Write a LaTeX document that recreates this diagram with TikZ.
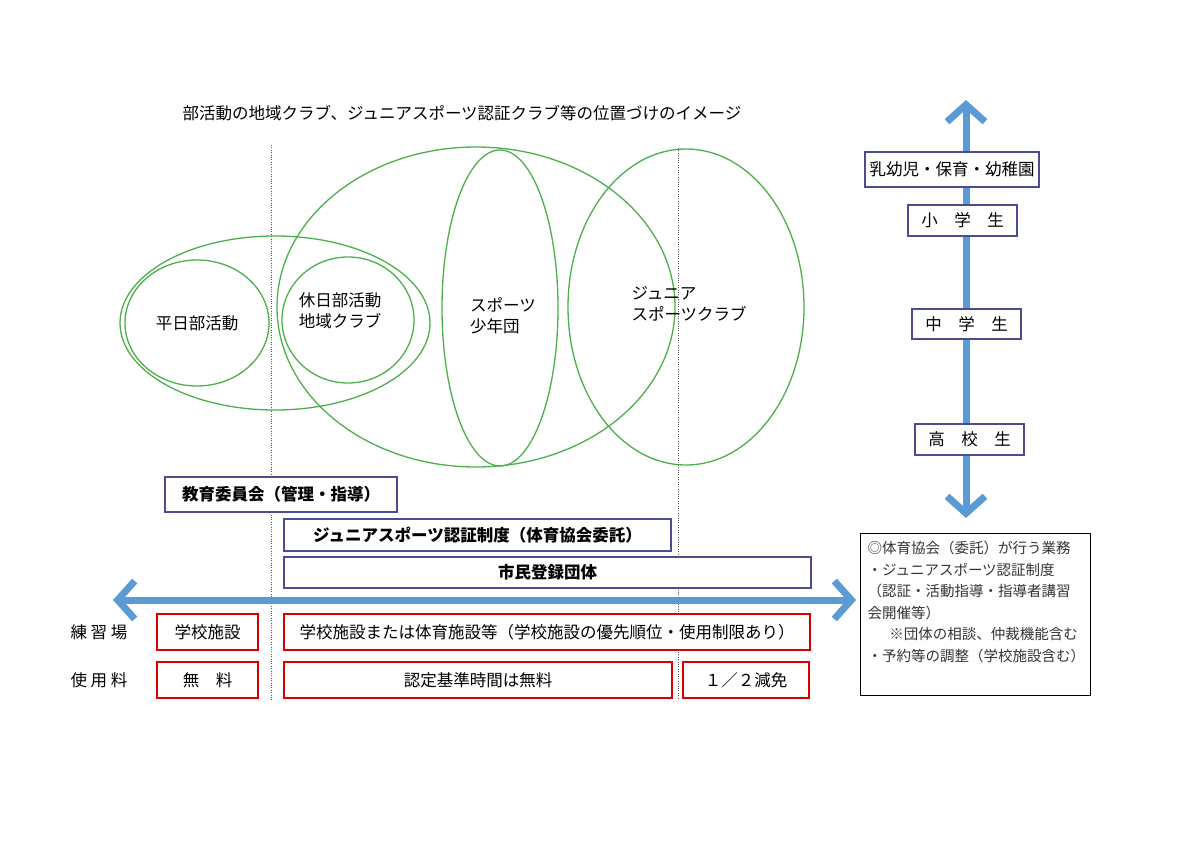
\documentclass[tikz,border=0pt]{standalone}
\usepackage{fontspec}
\setmainfont{Noto Sans CJK JP}
\usetikzlibrary{arrows.meta}
\definecolor{arrowblue}{RGB}{91,155,213}
\tikzset{
  circ/.style={draw=green!55!black!70!white, line width=1.3pt},
  bluebox/.style={draw=blue!40!black!70!white, line width=1.2pt, fill=white},
  redbox/.style={draw=red!85!black, line width=1.6pt, fill=white},
  bigarrow/.style={draw=arrowblue, line width=7pt,
    {Straight Barb[length=17pt,width=38pt]}-{Straight Barb[length=17pt,width=38pt]}},
  txt/.style={font=\fontsize{16.5}{21}\selectfont, align=center}
}
\begin{document}
\begin{tikzpicture}[x=1pt, y=-1pt]
\useasboundingbox (0,0) rectangle (1200,848);
% title
\node[txt] (title) at (462,113) {部活動の地域クラブ、ジュニアスポーツ認証クラブ等の位置づけのイメージ};
% dotted guides
\draw[dotted, gray!70!black] (271,145) -- (271,700);
\draw[dotted, gray!70!black] (678,148) -- (678,700);
% circles
\draw[circ] (275,323) ellipse [x radius=155, y radius=87];
\draw[circ] (197,323) ellipse [x radius=72, y radius=63];
\draw[circ] (348,320) ellipse [x radius=66, y radius=63];
\draw[circ] (476,307) ellipse [x radius=199, y radius=160];
\draw[circ] (500,308) ellipse [x radius=58, y radius=158];
\draw[circ] (686,307) ellipse [x radius=118, y radius=158];
\node[txt] (heijitsu) at (197,323) {平日部活動};
\node[txt] (kyujitsu) at (340,311) {休日部活動\\地域クラブ};
\node[txt, align=left] (shonen) at (503,316) {スポーツ\\少年団};
\node[txt, align=left, anchor=west] (junior) at (628,304) {ジュニア\\スポーツクラブ};
% horizontal arrow
\coordinate (hl) at (113,600);
\coordinate (hr) at (856,600);
\draw[bigarrow] (hl) -- (hr);
% organisation boxes
\node[bluebox, txt, minimum width=232, minimum height=35] (kyoiku) at (281,494.5) {\textbf{教育委員会（管理・指導）}};
\node[bluebox, txt, minimum width=387, minimum height=32] (ninsho) at (477.5,535) {\textbf{ジュニアスポーツ認証制度（体育協会委託）}};
\node[bluebox, txt, minimum width=527, minimum height=31] (shimin) at (547.5,572.5) {\textbf{市民登録団体}};
% rows
\node[txt] (renshu) at (99,632) {練 習 場};
\node[txt] (shiyo) at (99,680) {使 用 料};
\node[redbox, txt, minimum width=101, minimum height=36] (gakko) at (207.5,632) {学校施設};
\node[redbox, txt, minimum width=526, minimum height=36] (shisetsu) at (547,632) {学校施設または体育施設等（学校施設の優先順位・使用制限あり）};
\node[redbox, txt, minimum width=101, minimum height=36] (muryo) at (207.5,680) {無\quad 料};
\node[redbox, txt, minimum width=388, minimum height=36] (nintei) at (478,680) {認定基準時間は無料};
\node[redbox, txt, minimum width=126, minimum height=36] (hangen) at (746,680) {１／２減免};
% vertical arrow
\coordinate (vt) at (966,100);
\coordinate (vb) at (966,518);
\draw[bigarrow] (vt) -- (vb);
\node[bluebox, txt, minimum width=174, minimum height=35] (nyuyoji) at (952,169.5) {乳幼児・保育・幼稚園};
\node[bluebox, txt, minimum width=109, minimum height=31] (sho) at (962.5,220.5) {小\quad 学\quad 生};
\node[bluebox, txt, minimum width=109, minimum height=30] (chu) at (966.5,324) {中\quad 学\quad 生};
\node[bluebox, txt, minimum width=109, minimum height=31] (ko) at (969.5,439.5) {高\quad 校\quad 生};
% note box
\draw[line width=0.8pt] (860,533) rectangle (1090,695);
\node[anchor=north west, align=left, font=\fontsize{14.5}{21.5}\selectfont, text=black!80] (note) at (864,538)
  {◎体育協会（委託）が行う業務\\・ジュニアスポーツ認証制度\\（認証・活動指導・指導者講習\\会開催等）\\\hspace*{1.5em}※団体の相談、仲裁機能含む\\・予約等の調整（学校施設含む）};
\end{tikzpicture}
\end{document}
